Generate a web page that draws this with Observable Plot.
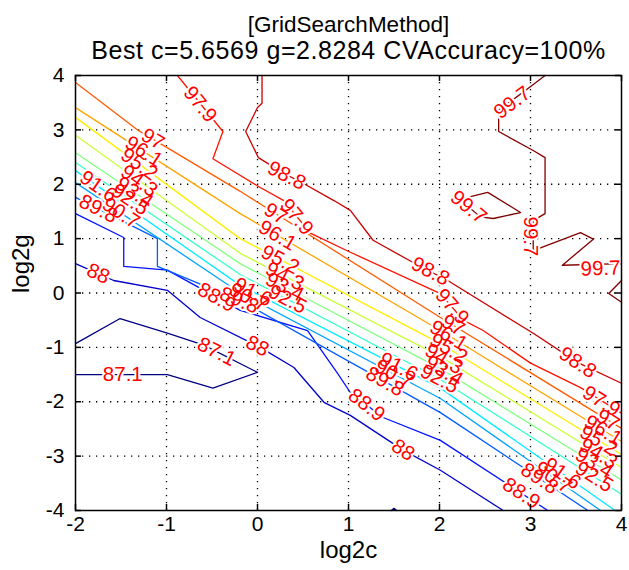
<!DOCTYPE html>
<html><head><meta charset="utf-8">
<script src="https://cdn.jsdelivr.net/npm/d3@7"></script>
<script src="https://cdn.jsdelivr.net/npm/@observablehq/plot@0.6"></script>
<style>body{margin:0;background:#fff;} #chart{width:629px;height:570px;}</style>
</head><body><div id="chart"></div>
<script>
const titleLines = ["[GridSearchMethod]", "Best c=5.6569 g=2.8284 CVAccuracy=100%"];
const xLabel = "log2c";
const yLabel = "log2g";
const xTicks = [-2, -1, 0, 1, 2, 3, 4];
const yTicks = [-4, -3, -2, -1, 0, 1, 2, 3, 4];
const levels = [87.1, 88, 88.9, 89.8, 90.7, 91.6, 92.5, 93.4, 94.3, 95.2, 96.1, 97, 97.9, 98.8, 99.7];
const levelColors = ["#000080", "#0000c9", "#0012ff", "#005bff", "#00a4ff", "#00edff", "#36ffc9", "#80ff80", "#c9ff36", "#ffed00", "#ffa400", "#ff5b00", "#ff1200", "#c90000", "#800000"];

// contour polylines, [log2c, log2g]
const c871a = [[-2,-0.93],[-1.51,-0.47],[-0.99,-0.74],[-0.59,-0.96],[0,-1.46],[-0.49,-1.75],[-0.99,-1.5],[-2,-1.5]];
const c871b = [[1.47,-4],[1.5,-3.96],[1.53,-4]];
const c880 = [[-2,0.54],[-1.58,0.23],[-0.99,0.05],[-0.63,-0.45],[0.03,-1.0],[0.4,-1.37],[0.73,-2.01],[1.02,-2.25],[1.6,-2.89],[2.01,-3.26],[2.7,-4]];
const c889 = [[-2,1.46],[-1.47,1.02],[-1.47,0.49],[-0.99,0.42],[-0.19,-0.32],[0.55,-0.69],[0.88,-1.48],[1.02,-1.83],[1.38,-2.29],[2.01,-2.71],[3.19,-4]];
const c898 = [[-2,1.76],[-1.10,1.0],[-1.10,0.49],[-0.19,-0.14],[2.01,-2.2],[3.63,-4]];
const c907 = [[-2,2.03],[-0.19,0.0],[2.01,-1.94],[3.77,-4]];
const c916 = [[-2,2.25],[-0.19,0.14],[2.01,-1.75],[3.93,-4]];
const c925 = [[-2,2.40],[-0.19,0.34],[2.01,-1.59],[4,-3.70]];
const c934 = [[-2,2.58],[-0.19,0.54],[2.01,-1.39],[4,-3.44]];
const c943 = [[-2,2.90],[-0.19,0.73],[2.01,-1.17],[4,-3.21]];
const c952 = [[-2,3.23],[-0.19,1.0],[2.01,-0.93],[4,-2.97]];
const c961 = [[-2,3.41],[-0.19,1.46],[2.01,-0.69],[4,-2.73]];
const c970 = [[-2,3.87],[-1.31,2.99],[-0.19,1.87],[2.01,-0.45],[4,-2.49]];
const c979 = [[-0.88,4],[-0.38,2.97],[-0.49,2.47],[0.03,1.94],[0.29,1.70],[0.58,1.10],[1.02,0.75],[2.01,-0.01],[2.26,-0.5],[2.48,-0.69],[3.0,-1.29],[3.55,-1.74],[4,-2.21]];
const c988 = [[0.05,4],[0.05,3.49],[0,3.41],[-0.13,2.97],[0.01,2.49],[0.29,2.2],[0.51,2.01],[0.84,1.70],[1.02,1.52],[1.27,0.97],[1.71,0.56],[2.09,0.23],[3.03,-0.74],[3.52,-1.28],[4,-1.66]];
const c997a = [[3.16,4],[3.02,3.82],[2.65,3.36],[2.65,2.97],[3.03,2.62],[3.16,2.49],[3.16,1.46],[3.03,1.33],[3.03,0.78],[3.55,1.11],[3.69,0.99],[3.35,0.51],[4,0.54]];
const c997b = [[2.53,1.85],[2.89,1.48],[2.59,1.37],[2.45,1.40],[2.22,1.72],[2.53,1.85]];
const c997c = [[4,0.23],[3.86,-0.01],[4,-0.17]];

const contourSegments = [
  [87.1, c871a], [87.1, c871b], [88, c880], [88.9, c889], [89.8, c898], [90.7, c907],
  [91.6, c916], [92.5, c925], [93.4, c934], [94.3, c943], [95.2, c952], [96.1, c961],
  [97, c970], [97.9, c979], [98.8, c988], [99.7, c997a], [99.7, c997b], [99.7, c997c]
];

// inline labels: [level, log2c, log2g (optional)]
const labelSpots = [
  [99.7, 2.80, 3.50], [99.7, 3.0, 1.04], [99.7, 3.77, 0.45], [99.7, 2.32, 1.58],
  [98.8, 0.32, 2.16], [98.8, 1.90, 0.40], [98.8, 3.52, -1.28],
  [97.9, -0.63, 3.47], [97.9, 0.43, 1.40], [97.9, 2.14, -0.25], [97.9, 3.78, -1.99],
  [97, -1.15], [96.1, -1.25], [95.2, -1.3], [94.3, -1.3], [93.4, -1.35], [92.5, -1.4],
  [91.6, -1.75], [90.7, -1.5], [89.8, -1.75],
  [97, 0.2], [96.1, 0.22], [95.2, 0.25], [94.3, 0.3], [93.4, 0.3], [92.5, 0.33],
  [91.6, -0.05], [90.7, -0.1], [89.8, -0.2], [88.9, -0.45],
  [97, 2.15], [96.1, 2.1], [95.2, 2.1], [94.3, 2.05], [93.4, 2.05], [92.5, 2.0],
  [91.6, 1.55], [90.7, 1.5], [89.8, 1.4], [88.9, 1.2],
  [97, 3.85], [96.1, 3.8], [95.2, 3.75], [94.3, 3.75], [93.4, 3.7], [92.5, 3.7],
  [91.6, 3.35], [90.7, 3.25], [89.8, 3.1], [88.9, 2.9],
  [88, -1.75], [88, 0.0], [88, 1.6],
  [87.1, -1.48, -1.5], [87.1, -0.45, -1.08]
];

// ---- build tables ----
const W = 629, H = 570, mL = 75, mR = 8, mT = 75, mB = 60;
const xDom = [-2, 4], yDom = [-4, 4];
const kx = (W - mL - mR) / (xDom[1] - xDom[0]);
const ky = (H - mT - mB) / (yDom[1] - yDom[0]);
const colorOf = v => levelColors[levels.indexOf(v)];

const rows = [];
contourSegments.forEach(([v, pts], i) => pts.forEach(([x, y]) => rows.push({seg: i, level: v, x, y, color: colorOf(v)})));

function yOnLine(v, x) {
  for (const [lv, pts] of contourSegments) {
    if (lv !== v) continue;
    for (let i = 0; i < pts.length - 1; i++) {
      const [x0, y0] = pts[i], [x1, y1] = pts[i + 1];
      if ((x >= Math.min(x0, x1)) && (x <= Math.max(x0, x1)) && x0 !== x1) {
        return y0 + (y1 - y0) * (x - x0) / (x1 - x0);
      }
    }
  }
  return null;
}
function angleAt(v, x, y) {
  let best = null, bd = Infinity;
  for (const [lv, pts] of contourSegments) {
    if (lv !== v) continue;
    for (let i = 0; i < pts.length - 1; i++) {
      const ax = pts[i][0] * kx, ay = -pts[i][1] * ky, bx = pts[i + 1][0] * kx, by = -pts[i + 1][1] * ky;
      const px = x * kx, py = -y * ky;
      const dx = bx - ax, dy = by - ay, L = dx * dx + dy * dy || 1;
      let t = ((px - ax) * dx + (py - ay) * dy) / L; t = Math.max(0, Math.min(1, t));
      const d = Math.hypot(ax + t * dx - px, ay + t * dy - py);
      if (d < bd) { bd = d; best = Math.atan2(dy, dx) * 180 / Math.PI; }
    }
  }
  if (best > 90) best -= 180;
  if (best < -90) best += 180;
  return best;
}
const labels = labelSpots.map(([v, x, y]) => {
  const yy = (y === undefined) ? yOnLine(v, x) : y;
  return {x, y: yy, text: String(v), rotate: angleAt(v, x, yy)};
}).filter(d => d.y != null);

const fontFam = "Liberation Sans, Arial, Helvetica, sans-serif";
const chart = Plot.plot({
  width: W, height: H,
  marginLeft: mL, marginRight: mR, marginTop: mT, marginBottom: mB,
  x: {domain: xDom},
  y: {domain: yDom},
  color: {type: "identity"},
  style: {fontFamily: fontFam, background: "white", color: "black"},
  marks: [
    Plot.gridX(xTicks.slice(1, -1), {stroke: "black", strokeOpacity: 1, strokeWidth: 1.3, strokeDasharray: "1.3,5.7"}),
    Plot.gridY(yTicks.slice(1, -1), {stroke: "black", strokeOpacity: 1, strokeWidth: 1.3, strokeDasharray: "1.3,5.7"}),
    Plot.line(rows, {x: "x", y: "y", z: "seg", stroke: "color", strokeWidth: 1.3, curve: "linear"}),
    Plot.text(labels, {x: "x", y: "y", text: "text", rotate: "rotate", fill: "white", stroke: "white", strokeWidth: 4, fontSize: 20.5}),
    Plot.text(labels, {x: "x", y: "y", text: "text", rotate: "rotate", fill: "#ff0000", fontSize: 20.5}),
    Plot.frame({stroke: "black", strokeWidth: 1.5}),
    Plot.ruleX(xTicks, {y1: yDom[0], y2: yDom[0] + 6 / ky, stroke: "black", strokeWidth: 1.5}),
    Plot.ruleX(xTicks, {y1: yDom[1], y2: yDom[1] - 6 / ky, stroke: "black", strokeWidth: 1.5}),
    Plot.ruleY(yTicks, {x1: xDom[0], x2: xDom[0] + 6 / kx, stroke: "black", strokeWidth: 1.5}),
    Plot.ruleY(yTicks, {x1: xDom[1], x2: xDom[1] - 6 / kx, stroke: "black", strokeWidth: 1.5}),
    Plot.axisX({ticks: xTicks, tickSize: 0, tickPadding: 6, tickFormat: d => String(d), fontSize: 21, label: null}),
    Plot.axisY({ticks: yTicks, tickSize: 0, tickPadding: 11, tickFormat: d => String(d), fontSize: 21, label: null}),
    Plot.text([titleLines[0]], {frameAnchor: "top", dy: -59, text: d => d, fontSize: 22.5, fill: "black"}),
    Plot.text([titleLines[1]], {frameAnchor: "top", dy: -34, text: d => d, fontSize: 25, fill: "black"}),
    Plot.text([xLabel], {frameAnchor: "bottom", dy: 47, text: d => d, fontSize: 24, fill: "black"}),
    Plot.text([yLabel], {frameAnchor: "left", dx: -54, rotate: -90, text: d => d, fontSize: 24, fill: "black"})
  ]
});
d3.select(chart).selectAll("text").filter(function () { return this.textContent === titleLines[1]; }).style("letter-spacing", "0.55px");
document.getElementById("chart").appendChild(chart);
</script>
</body></html>
